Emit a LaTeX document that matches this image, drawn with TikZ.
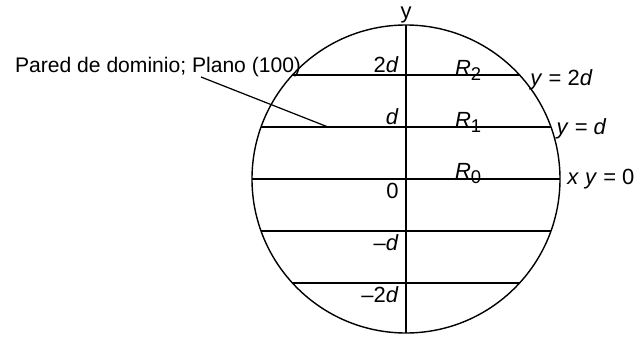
\documentclass[tikz,border=0pt]{standalone}
\usepackage{fontspec}
\setmainfont{Liberation Sans}
\usetikzlibrary{positioning}

\begin{document}
\begin{tikzpicture}[
    x=0.02cm, y=-0.02cm,
    font=\fontsize{12.5}{14}\selectfont,
    rim/.style={line width=0.8pt},
    wall/.style={line width=1.1pt},
    thinwall/.style={line width=0.7pt},
    lbl/.style={inner sep=1pt},
    sub/.style={},
    node distance=1pt and 3pt,
]
\useasboundingbox (0,0) rectangle (640,338);

% --- circle and axis ---
\coordinate (o) at (406,179);
\coordinate (top) at (406,25);
\coordinate (bot) at (406,333);
\draw[rim] (o) circle[radius=154];
\draw[rim] (top) -- (bot);
\node[lbl, anchor=base] (ylab) at (406,18) {y};

% --- walls (chords) ---
\foreach \i/\k/\s in {1/2/wall, 2/1/wall, 3/0/wall, 4/-1/thinwall, 5/-2/thinwall} {
    \pgfmathsetmacro\hw{100*sqrt(1.54*1.54-(0.52*\k)*(0.52*\k))}
    \pgfmathsetmacro\yy{179-52*\k}
    \coordinate (l\i) at (406-\hw,\yy);
    \coordinate (r\i) at (406+\hw,\yy);
    \coordinate (c\i) at (406,\yy);
    \draw[\s] (l\i) -- (r\i);
}

% axis values
\node[lbl, above left=0pt and 3pt of c1] (v1) {2\textit{d}};
\node[lbl, above left=0pt and 3pt of c2] (v2) {\textit{d}};
\node[lbl, below left=1pt and 3pt of c3] (v3) {0};
\node[lbl, below left=1pt and 3pt of c4] (v4) {\textendash\textit{d}};
\node[lbl, below left=1pt and 3pt of c5] (v5) {\textendash2\textit{d}};

% regions
\node[lbl, anchor=base west] (R2) at (453,75) {\textit{R}\raisebox{-0.5ex}{\fontsize{10.5}{10}\selectfont 2}};
\node[lbl, anchor=base west] (R1) at (453,127) {\textit{R}\raisebox{-0.5ex}{\fontsize{10.5}{10}\selectfont 1}};
\node[lbl, anchor=base west] (R0) at (453,178) {\textit{R}\raisebox{-0.5ex}{\fontsize{10.5}{10}\selectfont 0}};

% plane equations
\node[lbl, right=5pt of r1, yshift=-3pt] (e2) {\textit{y} = 2\textit{d}};
\node[lbl, right=2pt of r2, yshift=-1pt] (e1) {\textit{y} = \textit{d}};
\node[lbl, right=3pt of r3] (e0) {\textit{x} \textit{y} = 0};

% --- leader label ---
\node[lbl, anchor=base west, font=\fontsize{12}{14}\selectfont] (pared) at (13,72) {Pared de dominio; Plano (100)};
\coordinate (tail) at (201,77);
\coordinate (wallpt) at (328,127);
\draw[line width=0.7pt] (tail) -- (wallpt);

\end{tikzpicture}
\end{document}
